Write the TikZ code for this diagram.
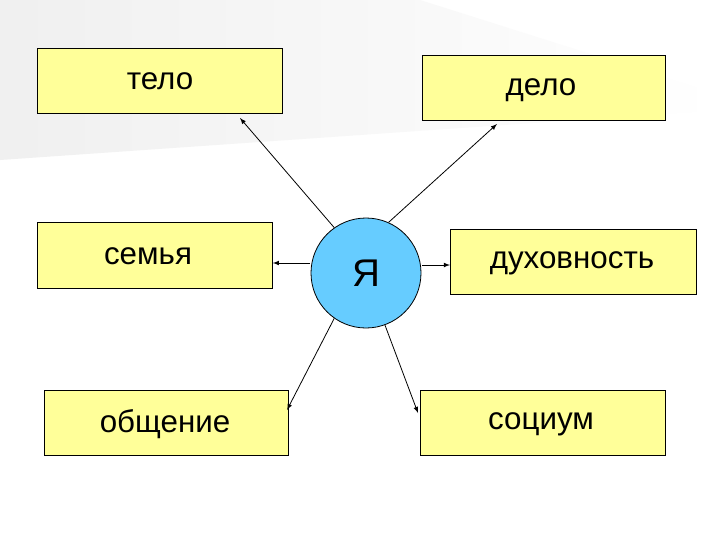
\documentclass[tikz,border=0pt]{standalone}
\usepackage{fontspec}
\setmainfont{Liberation Sans}
\definecolor{bx}{HTML}{FFFF99}
\definecolor{cb}{HTML}{66CCFF}
\begin{document}
\begin{tikzpicture}[x=0.75pt,y=-0.75pt,
 box/.style={draw=black,fill=bx,line width=0.6pt,anchor=north west,inner sep=0pt},
 lbl/.style={font=\fontsize{23.5}{27}\selectfont},
 con/.style={-latex,line width=0.6pt}]
\useasboundingbox (0,0) rectangle (720,540);
\fill[white] (0,0) rectangle (720,540);
\shade[left color=gray!12,right color=white] (0,0) -- (420,0) -- (720,95) -- (720,110) -- (0,160) -- cycle;
\node[box,minimum width=245*0.75pt,minimum height=65*0.75pt] (telo) at (37,48) {};
\node[lbl] at (160,81) {тело};
\node[box,minimum width=243*0.75pt,minimum height=65*0.75pt] (delo) at (422,55) {};
\node[lbl] at (541,90) {дело};
\node[box,minimum width=235*0.75pt,minimum height=66*0.75pt] (sem) at (37,222) {};
\node[lbl] at (148,256) {семья};
\node[box,minimum width=246*0.75pt,minimum height=65*0.75pt] (duh) at (450,229) {};
\node[lbl] at (572,263) {духовность};
\node[box,minimum width=244*0.75pt,minimum height=65*0.75pt] (obsh) at (44,390) {};
\node[lbl] at (165,424) {общение};
\node[box,minimum width=245*0.75pt,minimum height=65*0.75pt] (soc) at (420,390) {};
\node[lbl] at (541,424) {социум};
\node[circle,draw=black,fill=cb,minimum size=110*0.75pt,line width=0.6pt,font=\fontsize{29}{32}\selectfont] (ya) at (366,273) {Я};
\coordinate (a1) at (240,118); \coordinate (a2) at (497,124);
\coordinate (a5) at (287,410); \coordinate (a6) at (418,413);
\draw[con] (ya.125) -- (a1);
\draw[con] (ya.66) -- (a2);
\draw[con] (310,263) -- (sem.east |- 0,263);
\draw[con] (422,265) -- (duh.west |- 0,265);
\draw[con] (ya.235) -- (a5);
\draw[con] (ya.290) -- (a6);
\end{tikzpicture}
\end{document}
